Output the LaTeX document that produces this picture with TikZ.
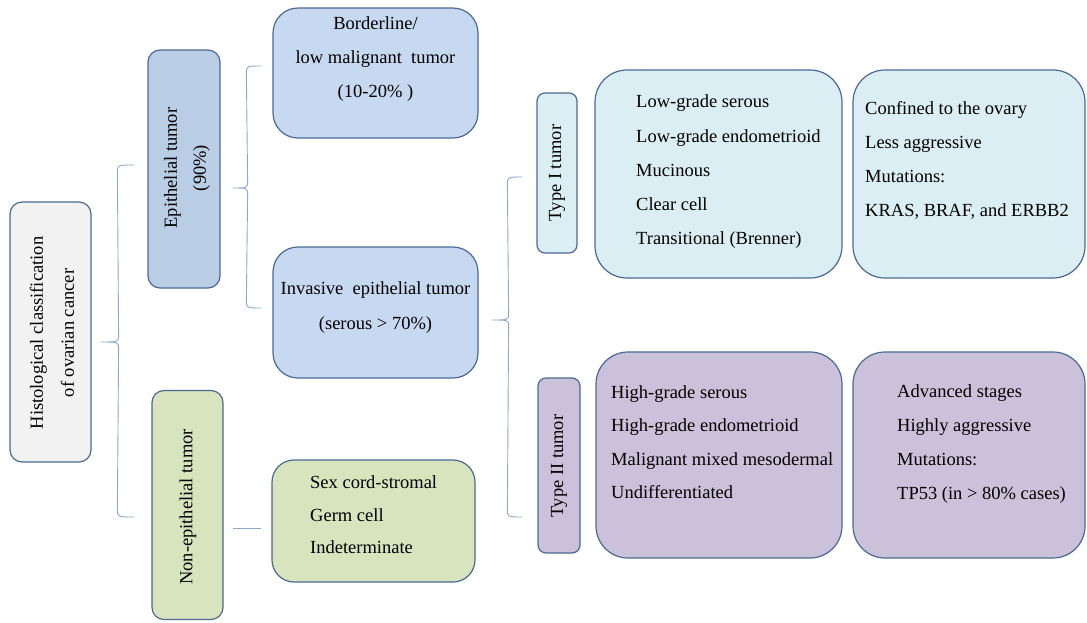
\documentclass[tikz,border=0pt]{standalone}
\usepackage{fontspec}
\setmainfont{Liberation Serif}
\usetikzlibrary{calc}
\definecolor{bord}{HTML}{4A6A94}
\definecolor{linkc}{HTML}{8EAACB}
\definecolor{rootc}{HTML}{F2F2F2}
\definecolor{epic}{HTML}{B9CDE5}
\definecolor{subc}{HTML}{C6D9F1}
\definecolor{greenc}{HTML}{D7E4BD}
\definecolor{typeonec}{HTML}{DAEEF3}
\definecolor{typetwoc}{HTML}{CCC1DA}
\newcommand\drawbrace[5]{%
  \draw[link] (#1) .. controls ($(#1)+(-#4,0)$) .. ($(#1)+(-#4,8)$)
    -- ($(#2)+(#5,-7)$) .. controls ($(#2)+(#5,0)$) .. (#2)
    .. controls ($(#2)+(#5,0)$) .. ($(#2)+(#5,7)$)
    -- ($(#3)+(-#4,-8)$) .. controls ($(#3)+(-#4,0)$) .. (#3);}
\begin{document}
\begin{tikzpicture}[x=1pt,y=-1pt,
  box/.style={draw=bord, line width=1.2pt, inner sep=0pt, rectangle},
  txt/.style={font=\fontsize{18.5}{34}\selectfont, inner sep=0pt},
  link/.style={draw=linkc, line width=0.9pt}]
\useasboundingbox (0,0) rectangle (1087,622);

% boxes
\node[box, fill=rootc, rounded corners=12pt, minimum width=81pt, minimum height=260pt] (root) at (50.5,332) {};
\node[box, fill=epic, rounded corners=12pt, minimum width=72pt, minimum height=238pt] (epi) at (184,169) {};
\node[box, fill=greenc, rounded corners=12pt, minimum width=71pt, minimum height=229pt] (nonepi) at (187.5,505) {};
\node[box, fill=subc, rounded corners=25pt, minimum width=205pt, minimum height=130pt] (border) at (375.5,73) {};
\node[box, fill=subc, rounded corners=25pt, minimum width=205pt, minimum height=131pt] (invasive) at (375.5,312.5) {};
\node[box, fill=greenc, rounded corners=22pt, minimum width=203pt, minimum height=122pt] (sexcord) at (373.5,521) {};
\node[box, fill=typeonec, rounded corners=8pt, minimum width=40pt, minimum height=160pt] (typeone) at (557,173) {};
\node[box, fill=typetwoc, rounded corners=8pt, minimum width=42pt, minimum height=175pt] (typetwo) at (559,465.5) {};
\node[box, fill=typeonec, rounded corners=32pt, minimum width=247pt, minimum height=208pt] (onelist) at (718.5,174) {};
\node[box, fill=typeonec, rounded corners=32pt, minimum width=232pt, minimum height=208pt] (onedesc) at (969,174) {};
\node[box, fill=typetwoc, rounded corners=32pt, minimum width=246pt, minimum height=206pt] (twolist) at (719,455) {};
\node[box, fill=typetwoc, rounded corners=32pt, minimum width=232pt, minimum height=206pt] (twodesc) at (969,455) {};

% texts
\node[txt, rotate=90, align=center, font=\fontsize{18.5}{31}\selectfont] (roott) at (52,333) {Histological classification\\of ovarian cancer};
\node[txt, rotate=90, align=center, font=\fontsize{18.5}{29}\selectfont] (epit) at (187,168) {Epithelial tumor\\(90\%)};
\node[txt, rotate=90] (nonepit) at (188,507) {Non-epithelial tumor};
\node[txt, align=center] (bordert) at (375.5,59) {Borderline/\\low malignant\ \ tumor\\(10-20\% )};
\node[txt, align=center, font=\fontsize{18.5}{35}\selectfont] (invasivet) at (375.5,308) {Invasive\ \ epithelial tumor\\(serous > 70\%)};
\node[txt, align=left, anchor=west, font=\fontsize{18.5}{32.5}\selectfont] (sexcordt) at (310,515) {Sex cord-stromal\\Germ cell\\Indeterminate};
\node[txt, rotate=90] (typeonet) at (557,173) {Type I tumor};
\node[txt, rotate=90] (typetwot) at (559,466) {Type II tumor};
\node[txt, align=left, anchor=west, font=\fontsize{18.5}{34.25}\selectfont] (onelistt) at (636,172) {Low-grade serous\\Low-grade endometrioid\\Mucinous\\Clear cell\\Transitional\ (Brenner)};
\node[txt, align=left, anchor=west] (onedesct) at (865,160) {Confined to the ovary\\Less aggressive\\Mutations:\\KRAS, BRAF, and ERBB2};
\node[txt, align=left, anchor=west, font=\fontsize{18.5}{33.5}\selectfont] (twolistt) at (611,442) {High-grade\ serous\\High-grade\ endometrioid\\Malignant\ mixed\ mesodermal\\Undifferentiated};
\node[txt, align=left, anchor=west] (twodesct) at (897,444) {Advanced\ stages\\Highly aggressive\\Mutations:\\TP53 (in > 80\% cases)};

% connector end points
\coordinate (bAtop) at ($(epi.west)+(-13,-4)$);
\coordinate (bAtip) at ($(root.east)+(9,10)$);
\coordinate (bAbot) at ($(nonepi.west)+(-17,12)$);
\coordinate (bBtop) at ($(border.west)+(-11,-7)$);
\coordinate (bBtip) at ($(epi.east)+(12,19)$);
\coordinate (bBbot) at ($(invasive.west)+(-11,-4.5)$);
\coordinate (bCtop) at ($(typeone.west)+(-14,4)$);
\coordinate (bCtip) at ($(invasive.east)+(13,7.5)$);
\coordinate (bCbot) at ($(typetwo.west)+(-15,51.5)$);
\coordinate (lnA) at ($(nonepi.east)+(9,23)$);
\coordinate (lnB) at ($(sexcord.west)+(-10,7)$);

% braces
\drawbrace{bAtop}{bAtip}{bAbot}{17}{18}
\drawbrace{bBtop}{bBtip}{bBbot}{15}{15}
\drawbrace{bCtop}{bCtip}{bCbot}{15}{17}
\draw[link] (lnA) -- (lnB);
\end{tikzpicture}
\end{document}
